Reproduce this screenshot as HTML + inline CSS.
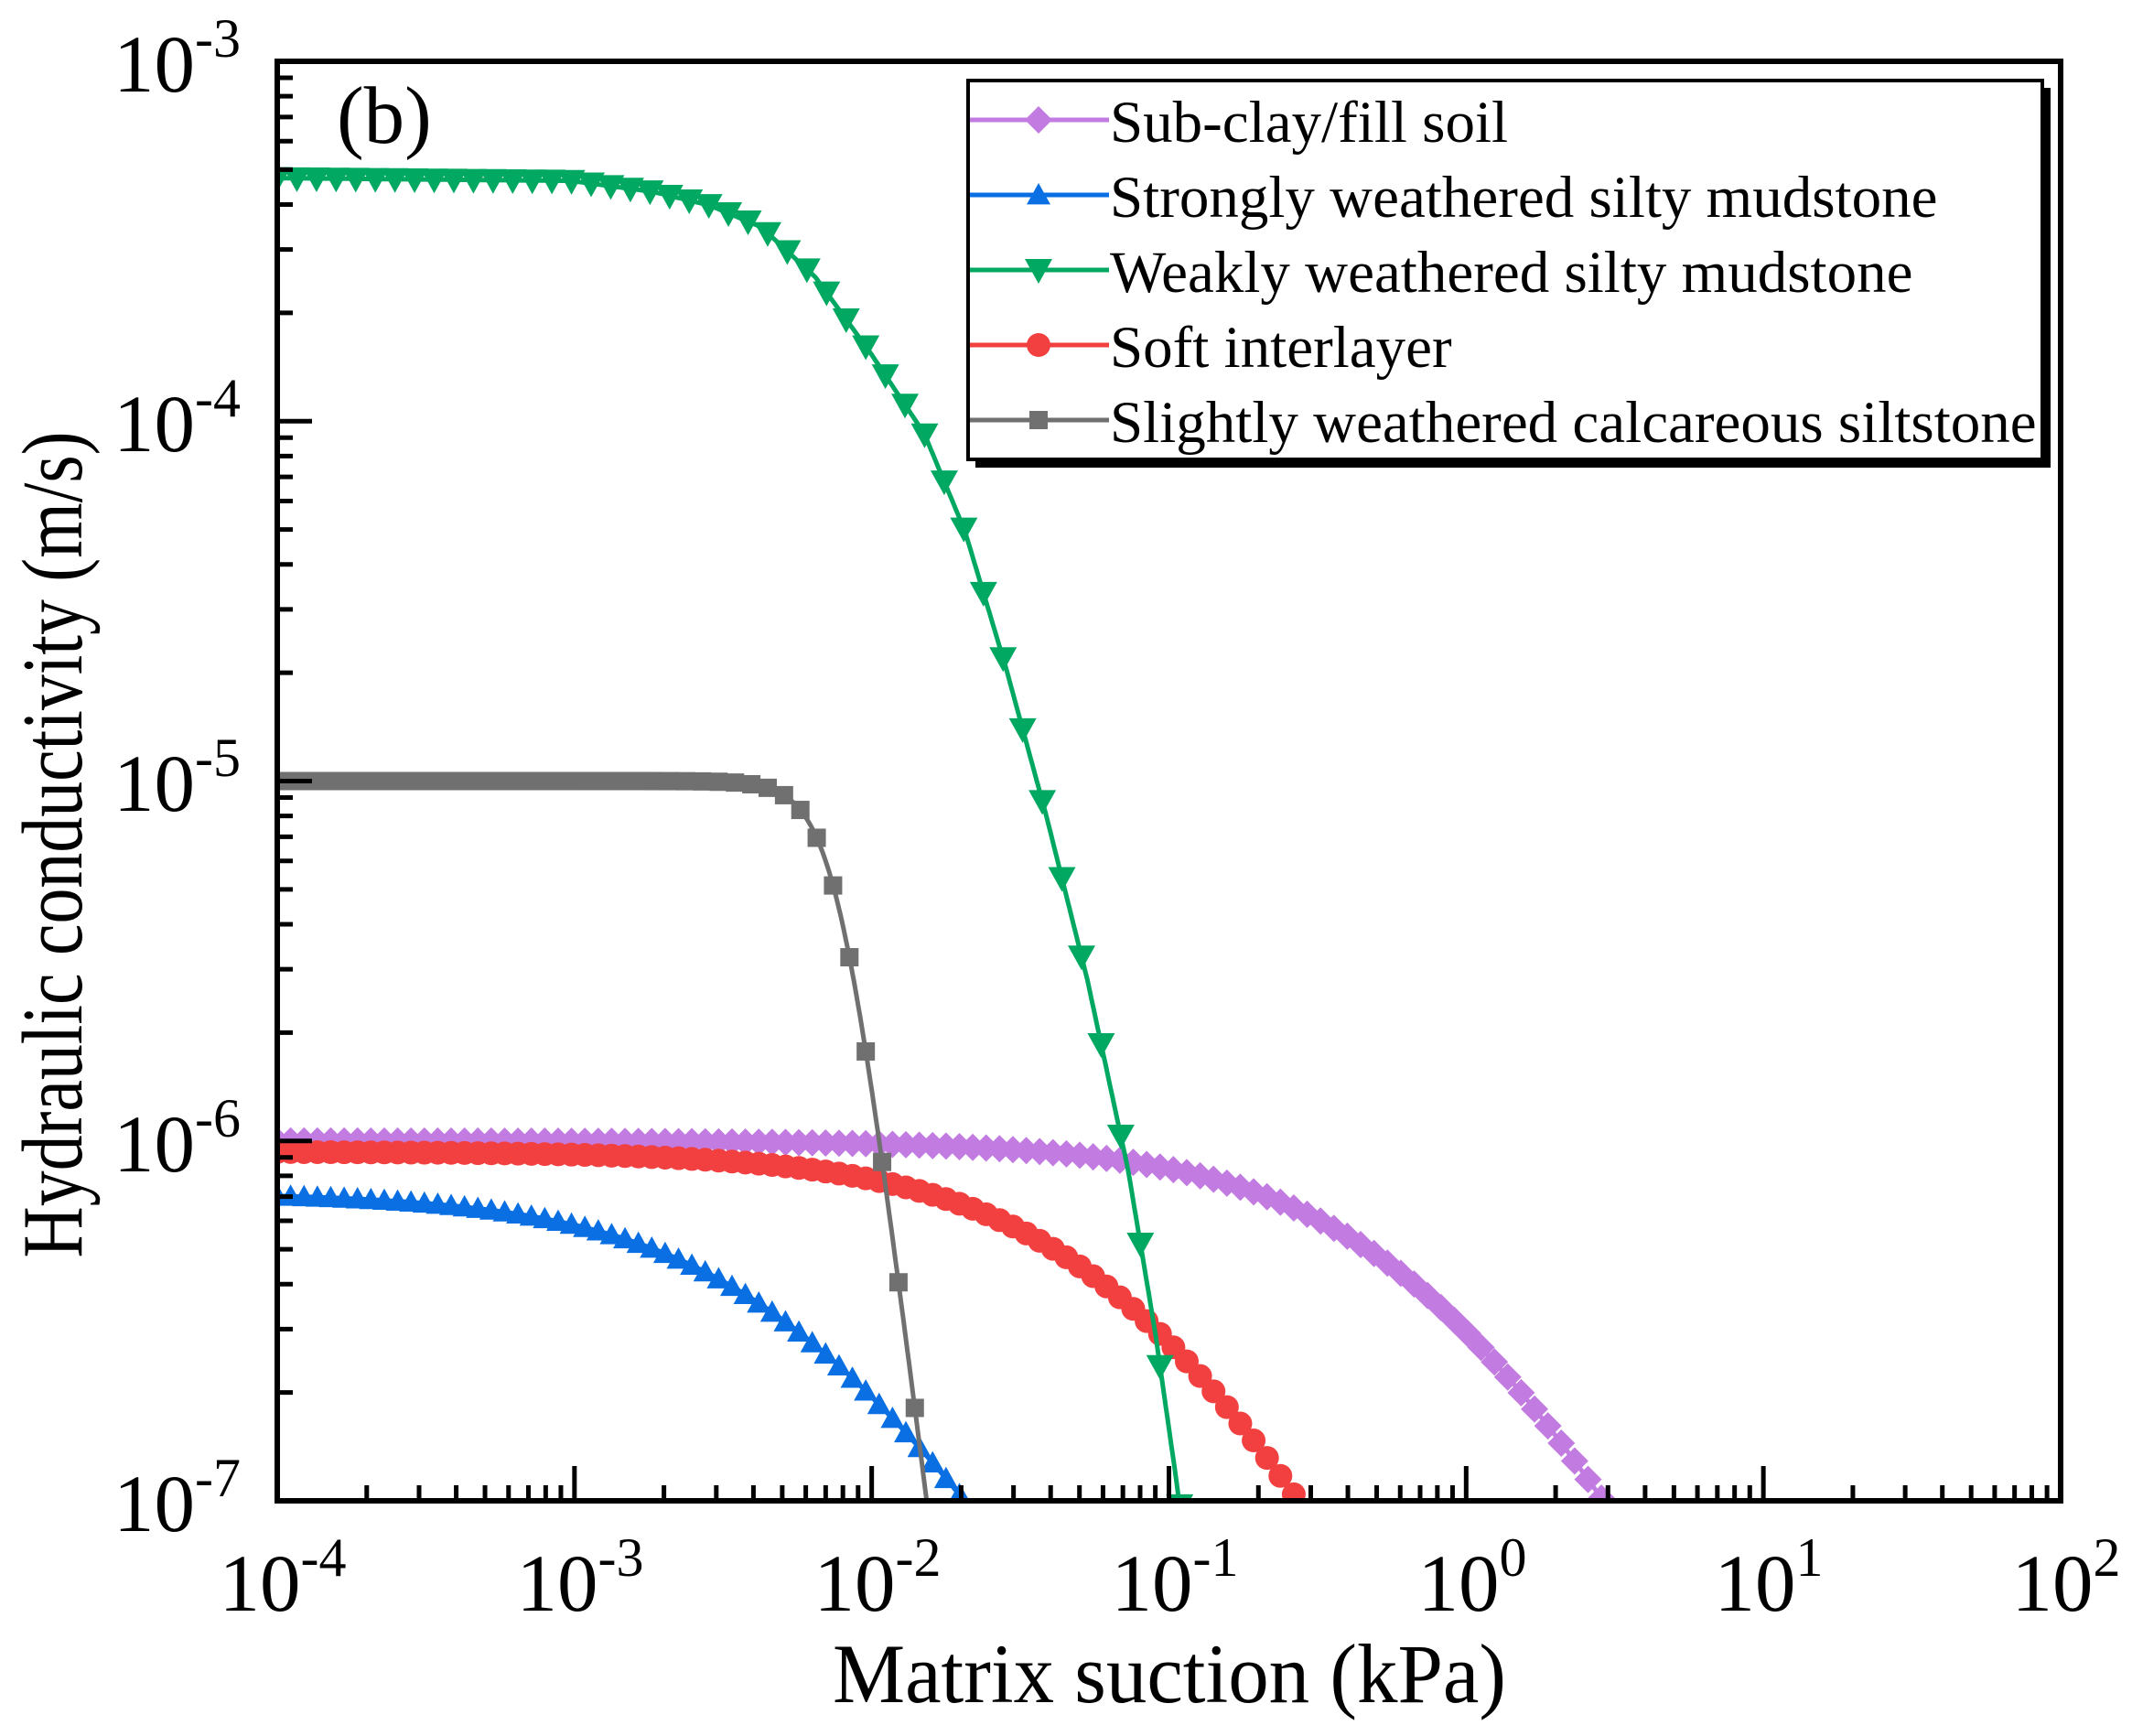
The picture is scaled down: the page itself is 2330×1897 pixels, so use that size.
<!DOCTYPE html>
<html><head><meta charset="utf-8">
<style>
html,body{margin:0;padding:0;background:#fff;}
svg{display:block;}
text{font-family:"Liberation Serif","Times New Roman",serif;fill:#000;}
</style></head>
<body>
<svg id="s" width="2330" height="1897" viewBox="0 0 2330 1897" xmlns="http://www.w3.org/2000/svg">
<defs><clipPath id="cp"><rect x="303" y="67" width="1949" height="1573"/></clipPath></defs>
<g id="series" clip-path="url(#cp)"></g>
<g id="ticks"></g>
<rect x="303" y="67" width="1949" height="1573" fill="none" stroke="#000" stroke-width="6"/>
<text x="263" y="100" font-size="89" text-anchor="end">10<tspan dy="-38" font-size="60">-3</tspan></text>
<text x="263" y="493" font-size="89" text-anchor="end">10<tspan dy="-38" font-size="60">-4</tspan></text>
<text x="263" y="886" font-size="89" text-anchor="end">10<tspan dy="-38" font-size="60">-5</tspan></text>
<text x="263" y="1280" font-size="89" text-anchor="end">10<tspan dy="-38" font-size="60">-6</tspan></text>
<text x="263" y="1673" font-size="89" text-anchor="end">10<tspan dy="-38" font-size="60">-7</tspan></text>
<text x="309" y="1760" font-size="89" text-anchor="middle">10<tspan dy="-38" font-size="60">-4</tspan></text>
<text x="634" y="1760" font-size="89" text-anchor="middle">10<tspan dy="-38" font-size="60">-3</tspan></text>
<text x="959" y="1760" font-size="89" text-anchor="middle">10<tspan dy="-38" font-size="60">-2</tspan></text>
<text x="1284" y="1760" font-size="89" text-anchor="middle">10<tspan dy="-38" font-size="60">-1</tspan></text>
<text x="1609" y="1760" font-size="89" text-anchor="middle">10<tspan dy="-38" font-size="60">0</tspan></text>
<text x="1933" y="1760" font-size="89" text-anchor="middle">10<tspan dy="-38" font-size="60">1</tspan></text>
<text x="2258" y="1760" font-size="89" text-anchor="middle">10<tspan dy="-38" font-size="60">2</tspan></text>
<text x="1278" y="1860" font-size="92" text-anchor="middle" textLength="736" lengthAdjust="spacingAndGlyphs">Matrix suction (kPa)</text>
<text transform="translate(89,923) rotate(-90)" font-size="94" text-anchor="middle" textLength="903" lengthAdjust="spacingAndGlyphs">Hydraulic conductivity (m/s)</text>
<text x="368" y="156" font-size="89">(b)</text>
<rect x="1066" y="96" width="1175" height="415" fill="#000"/>
<rect x="1058" y="88" width="1174" height="414" fill="#fff" stroke="#000" stroke-width="4"/>
<g id="leg"></g>
<text x="1213" y="155" font-size="65">Sub-clay/fill soil</text>
<text x="1213" y="237" font-size="65">Strongly weathered silty mudstone</text>
<text x="1213" y="319" font-size="65">Weakly weathered silty mudstone</text>
<text x="1213" y="401" font-size="65">Soft interlayer</text>
<text x="1213" y="483" font-size="65">Slightly weathered calcareous siltstone</text>
</svg>
<script>
var NS="http://www.w3.org/2000/svg";
function X(ls){return 303+(ls+4)*324.83;}
function Y(lk){return 67+(-3-lk)*393.25;}
function el(p,t,a){var e=document.createElementNS(NS,t);for(var k in a)e.setAttribute(k,a[k]);p.appendChild(e);return e;}
var tk=document.getElementById('ticks');
for(var d=-4;d<2;d++){for(var m=1;m<10;m++){var x=X(d+Math.log10(m));var L=m==1?38:17;el(tk,'line',{x1:x,y1:1640,x2:x,y2:1640-L,stroke:'#000','stroke-width':5});}}
var x=X(2);el(tk,'line',{x1:x,y1:1640,x2:x,y2:1602,stroke:'#000','stroke-width':5});
for(var d=-7;d<-3;d++){for(var m=1;m<10;m++){var y=Y(d+Math.log10(m));var L=m==1?38:17;el(tk,'line',{x1:303,y1:y,x2:303+L,y2:y,stroke:'#000','stroke-width':5});}}
el(tk,'line',{x1:303,y1:Y(-3),x2:341,y2:Y(-3),stroke:'#000','stroke-width':5});
function mk(p,type,cx,cy,c,s){
 if(type=='d')el(p,'polygon',{points:[cx,cy-s,cx+s,cy,cx,cy+s,cx-s,cy].join(' '),fill:c});
 else if(type=='u')el(p,'polygon',{points:[cx,cy-s,cx+s,cy+s*0.8,cx-s,cy+s*0.8].join(' '),fill:c});
 else if(type=='v')el(p,'polygon',{points:[cx,cy+s,cx+s,cy-s*0.8,cx-s,cy-s*0.8].join(' '),fill:c});
 else if(type=='o')el(p,'circle',{cx:cx,cy:cy,r:s,fill:c});
 else el(p,'rect',{x:cx-s,y:cy-s,width:2*s,height:2*s,fill:c});
}
// green traced (display coords of 1568-wide view)
var gp=[[204,130],[420,132],[480,140],[522,150],[560,166],[600,203],[640,258],[680,318],[710,390],[740,490],[770,600],[800,720],[830,860],[850,980],[865,1085],[875,1160]]
 .map(function(q){return [(q[0]-204)/218.7-4, -3-(q[1]-44)/265];});
function interp(ls){
 if(ls<=gp[0][0])return gp[0][1];
 for(var i=1;i<gp.length;i++){if(ls<=gp[i][0]){var a=gp[i-1],b=gp[i];var t=(ls-a[0])/(b[0]-a[0]);return a[1]+t*(b[1]-a[1]);}}
 var a=gp[gp.length-2],b=gp[gp.length-1];return b[1]+(ls-b[0])*(b[1]-a[1])/(b[0]-a[0]);
}
var S=[
 {c:'#C27BE0',t:'d',s:15,ks:-6.0,s0:-0.10,n:1,p:1.5,st:0.045},
 {c:'#F24040',t:'o',s:13,ks:-6.03,s0:-1.1,n:1,p:1.5,st:0.045},
 {c:'#0A6FE3',t:'u',s:13,ks:-6.143,s0:-2.24,n:1,p:1.3,st:0.045},
 {c:'#00A862',t:'v',s:15,fn:interp,st:0.066},
 {c:'#707070',t:'s',s:10,ks:-5.0,s0:-2.117,n:6,p:1.1,st:0.055}
];
var g=document.getElementById('series');
S.forEach(function(o){
 var f=o.fn||function(ls){return o.ks-o.p*Math.log10(1+Math.pow(10,(ls-o.s0)*o.n));};
 var pts=[];for(var ls=-4;ls<=2;ls+=0.005){var lk=f(ls);pts.push(X(ls).toFixed(1)+','+Y(lk).toFixed(1));if(lk<-7.1)break;}
 el(g,'polyline',{points:pts.join(' '),fill:'none',stroke:o.c,'stroke-width':5,'stroke-linejoin':'round'});
 for(var ls=-4;ls<=2;ls+=o.st){var lk=f(ls);if(lk<-7.02)break;mk(g,o.t,X(ls),Y(lk),o.c,o.s);}
});
var lg=document.getElementById('leg');
var ord=[0,2,3,1,4],rows=[131,213,295,377,459];
ord.forEach(function(si,i){var o=S[si];el(lg,'line',{x1:1060,y1:rows[i],x2:1212,y2:rows[i],stroke:o.c,'stroke-width':5});mk(lg,o.t,1135,rows[i],o.c,o.s);});
</script>
</body></html>
